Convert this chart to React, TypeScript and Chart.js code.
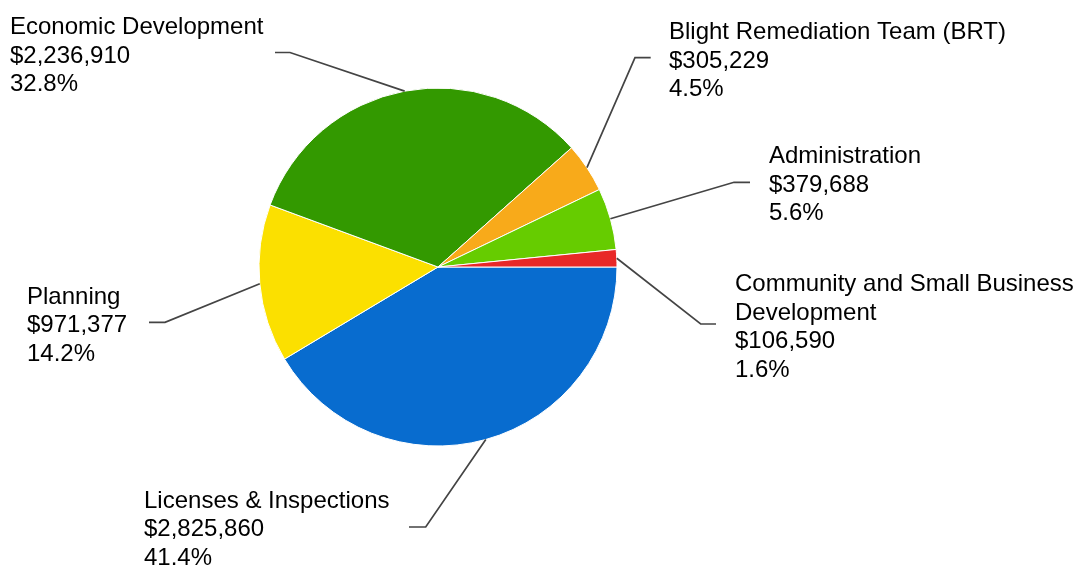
import React, { useEffect, useRef } from "react";
import { Chart, registerables } from "chart.js";

Chart.register(...registerables);

// ---- data ----
const categories = [
  "Licenses & Inspections",
  "Planning",
  "Economic Development",
  "Blight Remediation Team (BRT)",
  "Administration",
  "Community and Small Business Development",
];
const labelLines = [
  ["Licenses & Inspections"],
  ["Planning"],
  ["Economic Development"],
  ["Blight Remediation Team (BRT)"],
  ["Administration"],
  ["Community and Small Business", "Development"],
];
const values = [2825860, 971377, 2236910, 305229, 379688, 106590];
const colors = ["#086ccf", "#fbe000", "#339900", "#f8aa1a", "#66cc00", "#e82828"];

// ---- label layout (elbow of leader line, end of horizontal stub, text origin) ----
const labelLayout = [
  { ex: 425.7, ey: 527, hx: 409, tx: 144, ty: 507.5 },
  { ex: 165, ey: 322.3, hx: 149, tx: 27, ty: 303.5 },
  { ex: 290, ey: 52.5, hx: 275, tx: 10, ty: 34 },
  { ex: 635, ey: 57.7, hx: 650.7, tx: 669, ty: 39 },
  { ex: 734, ey: 182.3, hx: 750, tx: 769, ty: 163 },
  { ex: 700.7, ey: 324, hx: 716, tx: 735, ty: 291 },
];

const LINE_H = 28.6;
const FONT = '24px "Liberation Sans", Arial, sans-serif';

const total = values.reduce((a, b) => a + b, 0);

const calloutPlugin = {
  id: "callouts",
  afterDatasetsDraw(chart: any) {
    const ctx = chart.ctx;
    const meta = chart.getDatasetMeta(0);
    ctx.save();
    meta.data.forEach((arc: any, i: number) => {
      const p = arc.getProps(["x", "y", "startAngle", "endAngle", "outerRadius"], true);
      const mid = (p.startAngle + p.endAngle) / 2;
      const ax = p.x + Math.cos(mid) * p.outerRadius;
      const ay = p.y + Math.sin(mid) * p.outerRadius;
      const L = labelLayout[i];
      ctx.strokeStyle = "#444444";
      ctx.lineWidth = 1.7;
      ctx.beginPath();
      ctx.moveTo(ax, ay);
      ctx.lineTo(L.ex, L.ey);
      ctx.lineTo(L.hx, L.ey);
      ctx.stroke();

      const lines = [
        ...labelLines[i],
        "$" + values[i].toLocaleString("en-US"),
        ((values[i] / total) * 100).toFixed(1) + "%",
      ];
      ctx.fillStyle = "#000000";
      ctx.font = FONT;
      ctx.textAlign = "left";
      ctx.textBaseline = "alphabetic";
      lines.forEach((t, k) => {
        ctx.fillText(t, L.tx, L.ty + k * LINE_H);
      });
    });
    ctx.restore();
  },
};

export default function App() {
  const ref = useRef<HTMLCanvasElement | null>(null);
  useEffect(() => {
    document.body.style.margin = "0";
    const chart = new Chart(ref.current as HTMLCanvasElement, {
      type: "pie",
      data: {
        labels: categories,
        datasets: [
          {
            data: values,
            backgroundColor: colors,
            borderColor: "#ffffff",
            borderWidth: 1,
          },
        ],
      },
      options: {
        responsive: false,
        animation: false,
        rotation: 90,
        radius: 179,
        layout: { padding: { left: 188, right: 387, top: 17, bottom: 50 } },
        plugins: {
          legend: { display: false },
          tooltip: { enabled: false },
          title: { display: false },
        },
      } as any,
      plugins: [calloutPlugin],
    });
    return () => chart.destroy();
  }, []);
  return (
    <div style={{ position: "absolute", left: 0, top: 0, width: 1075, height: 567, background: "#fff" }}>
      <canvas ref={ref} width={1075} height={567} style={{ display: "block" }} />
    </div>
  );
}
